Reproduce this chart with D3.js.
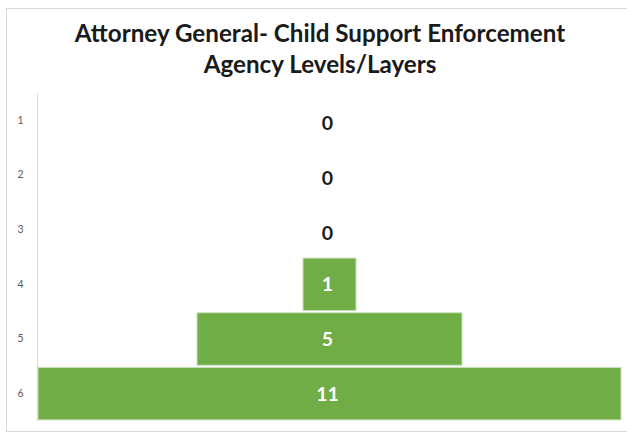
<!DOCTYPE html>
<html>
<head>
<meta charset="utf-8">
<script src="https://cdn.jsdelivr.net/npm/d3@7/dist/d3.min.js"></script>
<style>
  html, body { margin: 0; padding: 0; background: #fff; }
  svg { display: block; }
</style>
</head>
<body>
<svg id="chart" width="627" height="433"></svg>
<script>
// Levels of the agency and head count per level
const levels = ["1", "2", "3", "4", "5", "6"];
const counts = [0, 0, 0, 1, 5, 11];
const titleLines = ["Attorney General- Child Support Enforcement", "Agency Levels/Layers"];

const W = 627, H = 433;
const plot = { left: 38, right: 621, top: 93, bottom: 421 };
const barColor = "#70AD47";

const svg = d3.select("#chart");

// outer chart frame
svg.append("rect")
  .attr("x", 6.5).attr("y", 8.5)
  .attr("width", W - 6).attr("height", 423)
  .attr("fill", "#fff").attr("stroke", "#d9d9d9").attr("stroke-width", 1);

// title
const title = svg.append("text")
  .attr("text-anchor", "middle")
  .attr("font-family", "Lato, 'Open Sans', sans-serif")
  .attr("font-weight", "bold")
  .attr("font-size", 24.2)
  .attr("fill", "#1a1a1a");
title.selectAll("tspan").data(titleLines).join("tspan")
  .attr("x", 320)
  .attr("y", (d, i) => 42 + i * 31)
  .text(d => d);

const y = d3.scaleBand()
  .domain(levels)
  .range([plot.top, plot.bottom])
  .paddingInner(0.04)
  .paddingOuter(0.02);

const width = d3.scaleLinear()
  .domain([0, d3.max(counts)])
  .range([0, plot.right - plot.left]);

const cx = (plot.left + plot.right) / 2;

// category axis on the left
const axis = d3.axisLeft(y).tickSize(0).tickPadding(14);
const gAxis = svg.append("g")
  .attr("transform", `translate(${plot.left - 0.5},0)`)
  .call(axis);
gAxis.select(".domain").attr("stroke", "#d9d9d9").attr("d", `M0,${plot.top}V${plot.bottom}`);
gAxis.selectAll("text")
  .attr("font-family", "Lato, 'Open Sans', sans-serif")
  .attr("font-size", 10.5)
  .attr("fill", "#595959");

const data = levels.map((l, i) => ({ level: l, count: counts[i] }));

// centred bars form the pyramid
svg.append("g").selectAll("rect").data(data).join("rect")
  .attr("x", d => cx - width(d.count) / 2)
  .attr("y", d => y(d.level))
  .attr("width", d => width(d.count))
  .attr("height", y.bandwidth())
  .attr("fill", barColor)
  .attr("stroke", d => d.count > 0 ? "#c9e0b9" : "none")
  .attr("stroke-width", 1);

// value labels
svg.append("g").selectAll("text").data(data).join("text")
  .attr("x", cx - 2)
  .attr("y", d => y(d.level) + y.bandwidth() / 2 + (d.count > 0 ? 0 : 3))
  .attr("dy", "0.36em")
  .attr("text-anchor", "middle")
  .attr("font-family", "Lato, 'Open Sans', sans-serif")
  .attr("font-weight", "bold")
  .attr("font-size", 19.5)
  .attr("fill", d => d.count > 0 ? "#ffffff" : "#1a1a1a")
  .text(d => d.count);
</script>
</body>
</html>
